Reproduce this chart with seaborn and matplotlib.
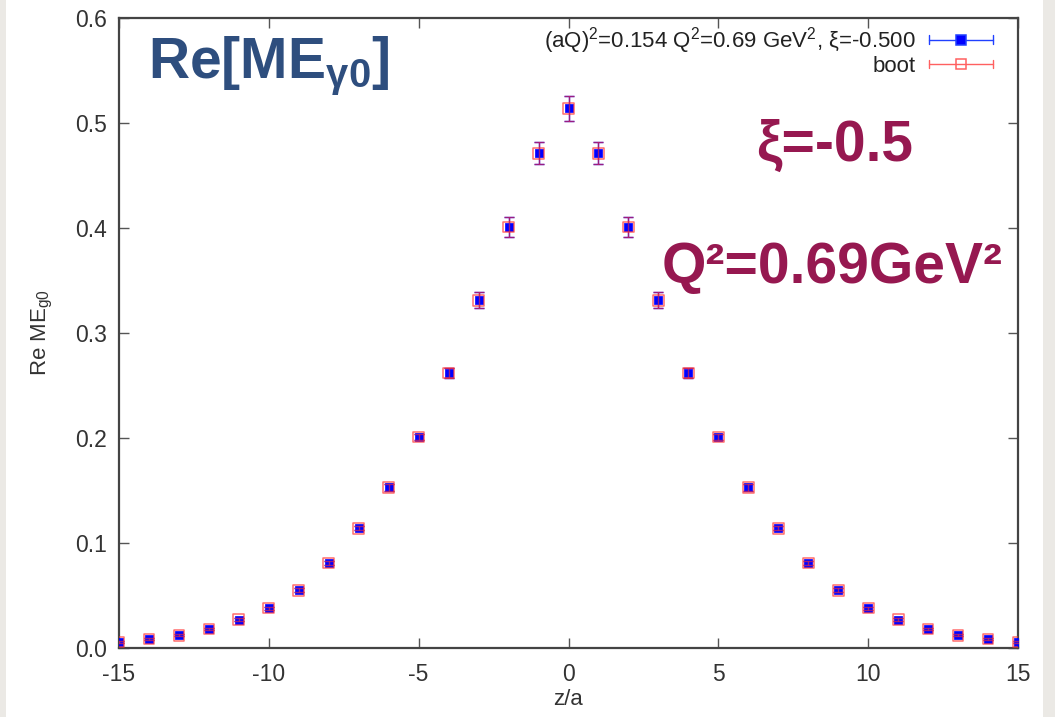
import numpy as np
import pandas as pd
import matplotlib
matplotlib.use("Agg")
import matplotlib.pyplot as plt
from matplotlib.patches import Rectangle
from matplotlib.lines import Line2D
from matplotlib.legend_handler import HandlerBase
import seaborn as sns

# z/a positions and Re ME values (central fit and bootstrap coincide)
z_sep = list(range(-15, 16))
re_me = [0.0057, 0.0086, 0.012, 0.018, 0.027, 0.038, 0.055, 0.081, 0.114, 0.153,
         0.201, 0.262, 0.331, 0.401, 0.471, 0.514,
         0.471, 0.401, 0.331, 0.262, 0.201, 0.153, 0.114, 0.081, 0.055,
         0.038, 0.027, 0.018, 0.012, 0.0086, 0.0057]
re_me_err = [0.001, 0.001, 0.001, 0.001, 0.0015, 0.0015, 0.002, 0.002, 0.002, 0.003,
             0.003, 0.005, 0.0076, 0.0095, 0.0105, 0.012,
             0.0105, 0.0095, 0.0076, 0.005, 0.003, 0.003, 0.002, 0.002, 0.002,
             0.0015, 0.0015, 0.001, 0.001, 0.001, 0.001]
x_ticks = [-15, -10, -5, 0, 5, 10, 15]
y_ticks = [0.0, 0.1, 0.2, 0.3, 0.4, 0.5, 0.6]

df = pd.DataFrame({"z": z_sep, "val": re_me, "err": re_me_err})

sns.set_theme(style="ticks")
plt.rcParams["font.family"] = ["Liberation Sans", "DejaVu Sans"]
plt.rcParams["mathtext.fontset"] = "custom"
plt.rcParams["mathtext.rm"] = "Liberation Sans"
plt.rcParams["mathtext.it"] = "Liberation Sans"
plt.rcParams["mathtext.bf"] = "Liberation Sans:bold"

W, H = 1055, 717
fig = plt.figure(figsize=(W / 100, H / 100), dpi=100, facecolor="#ebe9e5")
fig.patches.append(Rectangle((6 / W, 0), (1043 - 6) / W, 1, transform=fig.transFigure,
                             facecolor="white", edgecolor="none", zorder=-10))

ax = fig.add_axes([119 / W, 1 - 648 / H, (1018 - 119) / W, (648 - 18) / H])
ax.set_facecolor("white")

BLUE = "#0000ff"
RED = "#ff3030"

# central values with error bars
ax.errorbar(df["z"], df["val"], yerr=df["err"], fmt="none", ecolor=BLUE,
            elinewidth=1.0, capsize=3.8, capthick=1.0, zorder=2)
sns.scatterplot(data=df, x="z", y="val", marker="s", s=40, color=BLUE,
                edgecolor=BLUE, linewidth=0.5, ax=ax, zorder=3, legend=False)
# bootstrap overlay
ax.errorbar(df["z"], df["val"], yerr=df["err"], fmt="none", ecolor=RED, alpha=0.6,
            elinewidth=1.0, capsize=3.8, capthick=1.0, zorder=4)
sns.scatterplot(data=df, x="z", y="val", marker="s", s=60, facecolor="none",
                edgecolor=RED, linewidth=1.1, alpha=0.7, ax=ax, zorder=5, legend=False)

ax.set_xlim(-15, 15)
ax.set_ylim(0, 0.6)
ax.set_xticks(x_ticks)
ax.set_xticklabels([str(t) for t in x_ticks])
ax.set_yticks(y_ticks)
ax.set_yticklabels([f"{t:.1f}" for t in y_ticks])
ax.tick_params(direction="in", length=7, width=1.0, color="#555555",
               top=True, right=True, labelsize=16.5, labelcolor="#333333")
ax.tick_params(axis="x", pad=11)
ax.tick_params(axis="y", pad=9)
for sp in ax.spines.values():
    sp.set_color("#444444")
    sp.set_linewidth(1.6)

ax.set_xlabel("z/a", fontsize=16, color="#333333", labelpad=2)
ax.set_ylabel(r"Re ME$_{\mathrm{g0}}$", fontsize=16, color="#333333", labelpad=14)


class ErrSampleHandler(HandlerBase):
    """Horizontal error bar sample with end caps and a square marker."""

    def create_artists(self, legend, orig_handle, xdescent, ydescent, width, height,
                       fontsize, trans):
        c = orig_handle.get_color()
        fc = orig_handle.get_markerfacecolor()
        y = height / 2 - ydescent
        x0, x1 = -xdescent, -xdescent + width
        cap = height * 0.28
        arts = [
            Line2D([x0, x1], [y, y], color=c, lw=1.0),
            Line2D([x0, x0], [y - cap, y + cap], color=c, lw=1.0),
            Line2D([x1, x1], [y - cap, y + cap], color=c, lw=1.0),
            Line2D([(x0 + x1) / 2], [y], marker="s", markersize=6.5, color=c,
                   markerfacecolor=fc, markeredgecolor=c, markeredgewidth=1.1),
        ]
        for a in arts:
            a.set_transform(trans)
        return arts


h_main = Line2D([], [], color="#2040ff", markerfacecolor="#0000ff")
h_boot = Line2D([], [], color="#ff6060", markerfacecolor="none")
leg = ax.legend([h_main, h_boot],
                [r"(aQ)$^2$=0.154 Q$^2$=0.69 GeV$^2$, ξ=-0.500", "boot"],
                handler_map={Line2D: ErrSampleHandler()},
                loc="upper right", bbox_to_anchor=(993 / W, 1 - 25 / H),
                bbox_transform=fig.transFigure, frameon=False, markerfirst=False,
                fontsize=16, handlelength=2.9, handletextpad=0.6,
                labelspacing=0.0, borderpad=0, borderaxespad=0)
for t in leg.get_texts():
    t.set_color("#222222")

# slide annotations
fig.text(148 / W, 1 - 78 / H, r"Re[ME$_{\mathbf{\gamma 0}}$]", fontsize=41,
         fontweight="bold", color="#2e4e7e", ha="left", va="baseline")
fig.text(835 / W, 1 - 161 / H, "ξ=-0.5", fontsize=41, fontweight="bold",
         color="#961850", ha="center", va="baseline")
fig.text(832 / W, 1 - 283 / H, "Q²=0.69GeV²", fontsize=41, fontweight="bold",
         color="#961850", ha="center", va="baseline")

fig.savefig("out.png", dpi=100, facecolor=fig.get_facecolor())
